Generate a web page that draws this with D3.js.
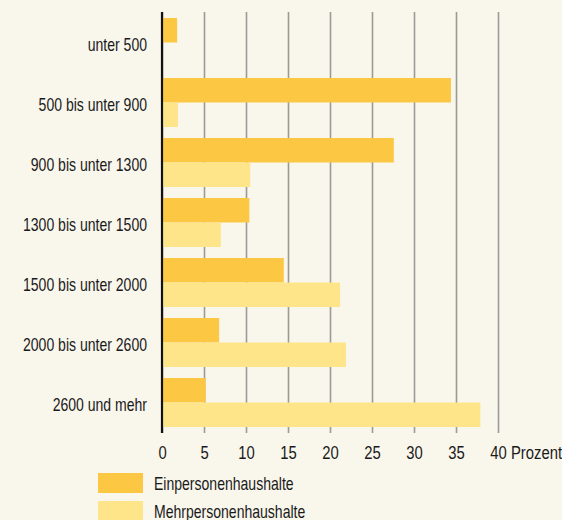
<!DOCTYPE html>
<html>
<head>
<meta charset="utf-8">
<script src="https://cdn.jsdelivr.net/npm/d3@7"></script>
<style>
  body { margin: 0; background: #f9f6ec; }
  svg { display: block; font-family: "Liberation Sans", Arial, sans-serif; }
</style>
</head>
<body>
<div class="chart"></div>
<script>
// Daten: Anteil der Haushalte je Einkommensklasse (Prozent)
var categories = ["unter 500", "500 bis unter 900", "900 bis unter 1300", "1300 bis unter 1500",
  "1500 bis unter 2000", "2000 bis unter 2600", "2600 und mehr"];
var series = ["Einpersonenhaushalte", "Mehrpersonenhaushalte"];
var einValues = [1.8, 34.4, 27.6, 10.4, 14.5, 6.8, 5.2];
var mehrValues = [0, 1.9, 10.5, 7.0, 21.2, 21.9, 37.9];
var tickValues = [0, 5, 10, 15, 20, 25, 30, 35, 40];

var colors = { "Einpersonenhaushalte": "#fcc843", "Mehrpersonenhaushalte": "#fee58a" };
var narrow = "scale(0.78,1)"; // schmale Schrift nachbilden

var width = 562;
var height = 520;
var margin = { top: 12, right: 64, bottom: 87, left: 162 };

var rows = categories.map(function(c, i) {
  return { key: c, Einpersonenhaushalte: einValues[i], Mehrpersonenhaushalte: mehrValues[i] };
});

var svg = d3.select(".chart")
  .append("svg")
  .attr("width", width)
  .attr("height", height);

svg.append("rect")
  .attr("width", width)
  .attr("height", height)
  .attr("fill", "#f9f6ec");

var x = d3.scaleLinear()
  .domain([0, 40])
  .range([margin.left, margin.left + 336]);

var y = d3.scaleBand()
  .domain(categories)
  .range([margin.top, height - margin.bottom])
  .paddingInner(11 / 60)
  .paddingOuter(0.1);

var ySub = d3.scaleBand()
  .domain(series)
  .range([0, y.bandwidth()]);

// Gitterlinien + Achsenbeschriftung
var xAxis = d3.axisBottom(x)
  .tickValues(tickValues)
  .tickSize(-(height - margin.bottom - margin.top))
  .tickPadding(10)
  .tickFormat(d3.format("d"));

var gx = svg.append("g")
  .attr("class", "axis-x")
  .attr("transform", "translate(0," + (height - margin.bottom) + ")")
  .call(xAxis);

gx.select(".domain").remove();
gx.selectAll(".tick line")
  .attr("stroke", "#9a9a96")
  .attr("stroke-width", 1.6);
gx.selectAll(".tick text")
  .attr("fill", "#1a1a1a")
  .attr("font-family", "Liberation Sans, Arial, sans-serif")
  .style("font-size", "19px")
  .attr("dy", "0.85em")
  .attr("transform", narrow);

svg.append("text")
  .attr("transform", "translate(" + (x(40) + 13) + "," + (height - margin.bottom + 10) + ") " + narrow)
  .attr("dy", "0.85em")
  .attr("fill", "#1a1a1a")
  .style("font-size", "19px")
  .text("Prozent");

// Balken
var groups = svg.selectAll(".group")
  .data(rows)
  .enter().append("g")
  .attr("class", "group")
  .attr("transform", function(d) { return "translate(0," + y(d.key) + ")"; });

groups.selectAll("rect")
  .data(function(d) { return series.map(function(s) { return { s: s, v: d[s] }; }); })
  .enter().append("rect")
  .attr("x", x(0))
  .attr("y", function(d) { return ySub(d.s); })
  .attr("width", function(d) { return x(d.v) - x(0); })
  .attr("height", ySub.bandwidth())
  .attr("fill", function(d) { return colors[d.s]; });

// y-Achse (Linie bei 0)
svg.append("line")
  .attr("x1", x(0))
  .attr("x2", x(0))
  .attr("y1", margin.top)
  .attr("y2", height - margin.bottom)
  .attr("stroke", "#111")
  .attr("stroke-width", 2.2);

// Kategorien
svg.selectAll(".cat")
  .data(categories)
  .enter().append("text")
  .attr("class", "cat")
  .attr("transform", function(d) {
    return "translate(" + (margin.left - 15) + "," + (y(d) + y.bandwidth() / 2) + ") " + narrow;
  })
  .attr("dy", "0.45em")
  .attr("text-anchor", "end")
  .attr("fill", "#1a1a1a")
  .style("font-size", "18px")
  .text(function(d) { return d; });

// Legende
var legend = svg.selectAll(".legend")
  .data(series)
  .enter().append("g")
  .attr("class", "legend")
  .attr("transform", function(d, i) { return "translate(98," + (473 + i * 28) + ")"; });

legend.append("rect")
  .attr("width", 45)
  .attr("height", 20)
  .attr("fill", function(d) { return colors[d]; });

legend.append("text")
  .attr("transform", "translate(56,10) " + narrow)
  .attr("dy", "0.4em")
  .attr("fill", "#1a1a1a")
  .style("font-size", "18px")
  .text(function(d) { return d; });
</script>
</body>
</html>
